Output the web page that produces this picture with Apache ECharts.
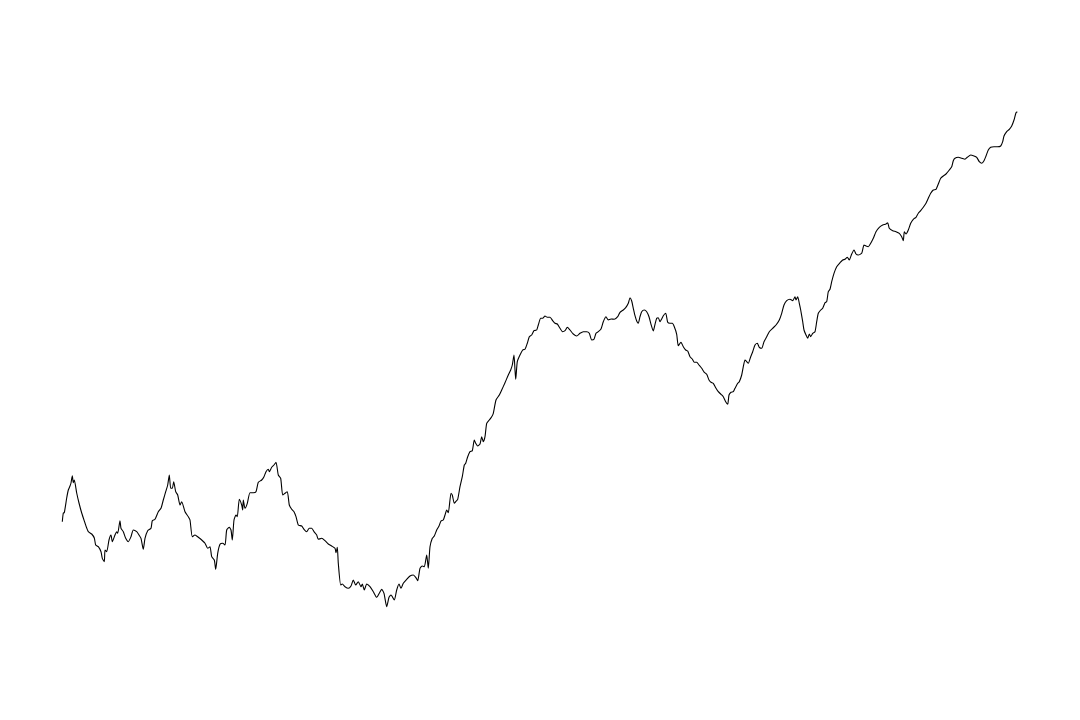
<!DOCTYPE html>
<html>
<head>
<meta charset="utf-8">
<script src="https://cdn.jsdelivr.net/npm/echarts@6/dist/echarts.min.js"></script>
<style>html,body{margin:0;padding:0;background:#fff;}#c{width:1080px;height:720px;}</style>
</head>
<body>
<div id="c"></div>
<script>
var t = [0.3,1.3,2.3,4.7,6.3,8,9,10.3,11.3,12.3,14.7,17,19.7,23,24.7,26.3,29.7,32.3,33.7,36.3,39,40.3,42.3,43,44.7,47,49,50.3,53,54.7,55.7,58,59,61.3,63.7,66.3,69,71.3,74.7,77,79,81.3,83,85.7,89,90.3,93,96.3,99,101.3,103.7,105.7,107.3,108.7,110.3,111.7,113.7,115.7,118,119.7,123,126.3,128,130.3,133,136.3,139.7,143,145.7,148,149.7,152.3,153.7,155.7,
158,160.7,163,164.7,167.3,169,170.3,172,174,175.3,177.3,179.7,180.7,181.3,183,185.3,188,191.3,194,196.3,199.7,202,204,206.3,207.3,209.7,212,214,216.3,218.7,220.7,223,225.3,227.3,229.7,232,234,236.3,239.7,242,244.7,247.3,249.7,252,254.7,256.3,259.7,263,266.3,269.7,273,274,275.3,276.3,278.7,
280.3,283,286.3,289,291.3,293.7,296.3,299,300.3,302.3,304.7,308,311.3,314.7,317.3,319.7,322,324.7,327,329,332.3,334.7,337,339,341.3,344.7,348,351.3,353.7,355.7,358,360.3,362.3,364.7,366.3,368,370.3,372.3,374.7,377,379,381.3,383,384.7,386.3,389,390.3,392.3,393.7,395.7,398,400.3,402.3,403.7,405.7,408,410.3,412.3,413.7,415.7,418,
419.7,421.3,423,424.7,427.3,429.7,431.3,434,437.3,439.7,443,446.3,448.7,450.3,452,453,453.7,455.3,458,460.7,463,465.3,467.3,469.7,472,474.7,476.3,478.7,480.7,483,485.3,488,490.7,493,495.3,498,500.7,503,505.3,508,511.3,514.7,518,521.3,524.7,527.3,529.7,532,534,
536.3,539,541.3,544,546.3,549,552.3,555.7,558,561.3,563.7,566.3,568,569.7,571.3,573,574.7,576.3,578,579.7,582.3,584.7,587,589,591.3,593,594.7,596.3,598,599.7,601.3,603.7,605.7,608,610.3,612.3,614.7,616.3,619,621.3,623.7,625.7,628,630.3,632.3,634.7,637,639.7,642.3,644.7,647,649,651.3,653.7,656.3,659,661.3,663.7,665.7,667,669,671.3,673,675.7,
677.3,679.7,681.3,683,684.7,686.3,688.7,690.7,693,695.3,697.3,699.7,702,704.7,707.3,710.7,714,717.3,719.7,722,724.7,728,730.7,733,734,735.7,737.3,738.7,740.7,742,744,745.7,747.3,748.7,750.7,753,754.7,756.3,758.7,760.7,763,764.7,766.3,768,769.7,772,774.7,778,780.7,783,785.3,787.3,789.7,792,794,796.3,799.7,802,804,806.3,808.7,811.3,814,817.3,820.7,824,825.7,827.3,830.7,834,
837.3,839.7,841.3,842.3,844,846.3,848.7,851.3,854,856.3,858.7,861.3,864,866.3,868.7,871.3,874,876.3,878.7,881.3,884,887.3,889.7,891.3,893,896.3,899.7,903,905.3,908.7,912,914.7,917.3,919.7,922,924,926.3,928.7,932,935.3,938.7,940.7,942,944.7,947.3,949.7,952,954,955.3];
var v = [178.3,187,187.3,202,210,214,217,224.3,217.3,220,207,197,187,177,172,168.3,166,162,155,153.3,148.3,141.7,138.3,150,148.3,160,165,158.3,165,168.3,166.7,179.3,171.7,168.3,161.7,158.3,163.3,170,168.3,165,161.7,150.7,161.7,169.3,171.7,179.3,180.7,188.3,191.7,200,208.3,215,225,211.7,211.7,218.3,208.3,205,195,198.3,188.3,183.3,180,163.3,165,162.7,160,156.7,151.7,153.3,143.3,140,130.7,146.7,
155.7,156.7,155,170,172.7,170,160,180,185,183.3,200.7,195,190,200,191.7,196.7,207.3,207.3,208.3,217.7,220,223.3,228.3,230.7,228.3,232.7,235,237.7,225,221.7,205,206.7,208.3,195,190.7,188.3,183.3,175,174,170.7,168.3,171.7,171.7,168.3,165,160.7,161.7,159.3,156,154,151.7,147.3,152.7,136.7,115,
116,113.3,111.7,114,120,115,118.3,113.3,116,110,116,113.3,108.3,102.7,106.7,110.7,106.7,93.3,102.7,105,100,110,116,111.7,116.7,120.7,124,125,122.7,119.3,131.7,134,133.3,145,131.7,153.3,161.7,164,170,174,179,180,185,190,187.3,206.7,205,196.7,198.3,200.7,213.3,223.3,235,236.7,243.3,248.3,249.3,260,256.7,254,256,
263.3,258.3,263.3,276.7,280,283.3,286.7,300,305,310,317.3,325,330,335,345,330,320.7,338.3,345,350,350.7,356.7,363.3,365,369.3,370,375,381.7,381.7,384,382.7,382.7,379.3,376.7,376,371.7,368.3,369.3,372.7,370,366,364,366.7,368.3,368.3,366.7,360,360.7,366.7,
368.3,371,378.3,383.3,380,381,380.7,383.3,387.7,390,392.3,396.7,402.3,399,391.7,384.3,379,376.7,383.3,388.3,390,388.3,383.3,375.7,369,375.7,381.7,382.3,378.3,381,384.3,386.7,377.7,376.7,376.7,373.3,365.7,354.3,357.7,353.3,350,349,343.3,341,337.7,337.7,335,331.7,327.7,325.7,320,317.7,316.7,312.3,308.3,305.7,303.3,298.3,295.7,305,307.7,308.3,311.7,316.7,
318.3,325,333.3,340,338.3,336.7,343.3,348.3,355,356.7,352.7,351.7,358.3,363.3,368.3,371.7,375,380,386.7,395,399.3,400.7,399.3,403.3,400,403.3,396.7,390,378.3,370,365,361.7,366,363.3,366.7,368.3,378.3,386.7,390,391.7,397.3,398.3,408.3,410.7,418.3,426.7,433.3,437.3,440,440.7,442.7,440,446,450,446,445,446.7,455,454,453.3,456.7,461.7,468.3,472.7,475,476,477.3,471.7,469.3,468.3,
466.7,463.3,459.3,468.3,466,470,476.7,480.7,482.7,486.7,489.3,492.7,496.7,501.7,506.7,510,510.7,516,521.7,524,526,530,533.3,539.3,541.7,542.7,541.7,540.7,542.7,545,544,542.7,538.3,536.7,539.3,544,550,552.7,553.3,553.3,554,558.3,564,568.3,570.7,574,580,587.3,588.3];

var data = t.map(function (x, i) { return [x, v[i]]; });

var chart = echarts.init(document.getElementById('c'), null, {renderer: 'canvas'});
chart.setOption({
  backgroundColor: '#ffffff',
  animation: false,
  grid: {left: 62, right: 62, top: 0, bottom: 20},
  xAxis: {type: 'value', min: 0, max: 956, show: false},
  yAxis: {type: 'value', min: 0, max: 700, show: false},
  series: [{
    type: 'line',
    data: data,
    showSymbol: false,
    symbol: 'none',
    smooth: 0.2,
    lineStyle: {color: '#000000', width: 1.1}
  }]
});
</script>
</body>
</html>
